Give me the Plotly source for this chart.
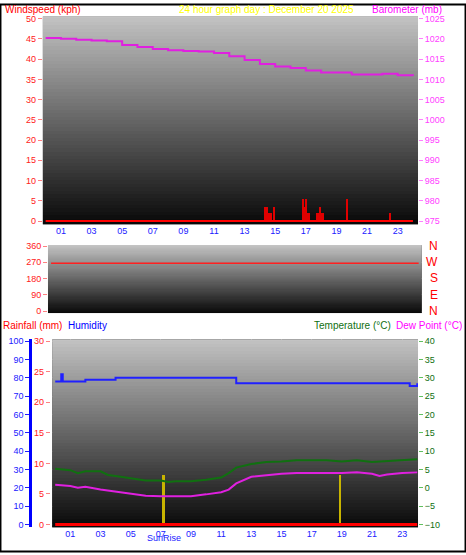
import plotly.graph_objects as go
import numpy as np

hours_baro = [0,1,2,3,4,5,6,7,8,9,10,11,12,13,14,15,16,17,18,19,20,21,22,23,24]
baro = [1020.2,1020,1019.8,1019.6,1019.4,1018.5,1018,1017.5,1017.2,1017,1016.9,1016.5,1015.7,1014.8,1013.8,1013.2,1012.8,1012.2,1011.7,1011.7,1011.2,1011.2,1011.4,1011,1010.9]
gust_hours = [14.3,14.45,14.6,14.75,14.9,16.8,16.9,17.0,17.1,17.2,17.7,17.8,17.9,18.0,18.1,19.7,22.5]
gust = [3.5,3.5,2,2,3.5,5.5,3.5,5.5,2,2,2,2,3.5,2,2,5.5,2]
wind_hours = [0,24]
wind = [0,0]
dir_hours = [0,24]
wdir = [265,265]
hum_hours = [0,0.3,0.4,0.5,1,2,3,4,5,6,7,8,9,10,11,11.5,12,13,14,15,16,17,18,19,20,21,22,23,23.5,24]
hum = [78,78,82,78,78,79,79,80,80,80,80,80,80,80,80,80,77,77,77,77,77,77,77,77,77,77,77,77,75.5,77]
t_hours = [0,1,1.5,2,3,3.5,4,5,6,7,7.5,8,9,10,11,11.5,12,13,14,15,16,17,18,19,20,21,22,23,24]
temp = [5.2,4.8,4,4.5,4.5,3.5,3.2,2.5,2,2,1.6,1.8,1.8,2.2,2.8,4,5.5,6.5,7,7.2,7.5,7.5,7.5,7.2,7.5,7,7.2,7.5,7.8]
d_hours = [0,1,1.5,2,3,4,5,6,7,8,9,10,11,11.5,12,13,14,15,16,17,18,19,20,21,21.5,22,23,24]
dew = [0.8,0.5,0,0.3,-0.5,-1,-1.5,-2.2,-2.3,-2.4,-2.3,-1.8,-1.2,-0.5,1.2,3,3.5,3.8,4,4,3.9,4,4.2,3.8,3.2,3.6,4,4.2]
rain_hours = [0,24]
rain = [0,0]
sun_hours = [7.2,18.9]
tick_vals = [1,3,5,7,9,11,13,15,17,19,21,23]
tick_text = ["01","03","05","07","09","11","13","15","17","19","21","23"]

F = "Liberation Sans, Arial"
fig = go.Figure()

def bg(xa, ya, yr, light=195, dark=8):
    ys = np.linspace(yr[0], yr[1], 60)
    z = [[v, v] for v in np.linspace(dark, light, 60)]
    fig.add_trace(go.Heatmap(x=[-1, 25], y=ys, z=z, xaxis=xa, yaxis=ya, showscale=False,
                             colorscale=[[0, "#000"], [1, "#fff"]], zmin=0, zmax=255, hoverinfo="skip"))

bg("x", "y", [-0.8, 50.5])
fig.add_trace(go.Bar(x=gust_hours, y=gust, width=0.08, marker_color="#e00000", marker_line_width=0, xaxis="x", yaxis="y"))
fig.add_trace(go.Scatter(x=wind_hours, y=wind, mode="lines", line=dict(color="#ff0000", width=2), xaxis="x", yaxis="y"))
fig.add_trace(go.Scatter(x=hours_baro, y=baro, mode="lines", line=dict(color="#e020e0", width=2, shape="hv"), xaxis="x", yaxis="y2"))
bg("x2", "y3", [-10, 365])
fig.add_trace(go.Scatter(x=dir_hours, y=wdir, mode="lines", line=dict(color="#ff2020", width=1.5), xaxis="x2", yaxis="y3"))
bg("x3", "y4", [-1.6, 101])
fig.add_trace(go.Bar(x=sun_hours, y=[27, 27], base=[0, 0], width=0.12, marker_color="#c8b400", marker_line_width=0, xaxis="x3", yaxis="y4"))
fig.add_trace(go.Scatter(x=hum_hours, y=hum, mode="lines", line=dict(color="#2020ff", width=2, shape="hv"), xaxis="x3", yaxis="y4"))
fig.add_trace(go.Scatter(x=rain_hours, y=rain, mode="lines", line=dict(color="#ff0000", width=3), xaxis="x3", yaxis="y5"))
fig.add_trace(go.Scatter(x=t_hours, y=temp, mode="lines", line=dict(color="#107010", width=2), xaxis="x3", yaxis="y6"))
fig.add_trace(go.Scatter(x=d_hours, y=dew, mode="lines", line=dict(color="#e020e0", width=2), xaxis="x3", yaxis="y6"))

grid = dict(showgrid=True, gridcolor="rgba(200,200,200,0.6)", griddash="dot", gridwidth=1)
xcommon = dict(tickvals=tick_vals, ticktext=tick_text, tickfont=dict(family=F, size=9, color="#2020ff"), zeroline=False, ticks="", **grid)
fig.update_layout(
    width=466, height=555, margin=dict(l=0, r=0, t=0, b=0), paper_bgcolor="white", plot_bgcolor="#444",
    showlegend=False, bargap=0,
    xaxis=dict(domain=[0.092, 0.897], range=[-0.18, 24.33], anchor="y", **xcommon),
    yaxis=dict(domain=[0.598, 0.977], range=[-0.8, 50.5], dtick=5, tickfont=dict(family=F, size=9, color="#ff2020"),
               ticks="outside", tickcolor="#ff8080", ticklen=4, zeroline=False, **grid),
    yaxis2=dict(overlaying="y", side="right", range=[974.2, 1025.5], dtick=5, tickfont=dict(family=F, size=9, color="#ff40ff"),
                ticks="outside", tickcolor="#ff80ff", ticklen=4, showgrid=False, zeroline=False, anchor="x"),
    xaxis2=dict(domain=[0.103, 0.905], range=[-0.2, 24.2], anchor="y3", showticklabels=False, zeroline=False, **grid),
    yaxis3=dict(domain=[0.436, 0.56], range=[-10, 365], tickvals=[0, 90, 180, 270, 360], anchor="x2",
                tickfont=dict(family=F, size=9, color="#ff2020"), ticks="outside", tickcolor="#ff8080", ticklen=4, zeroline=False, **grid),
    xaxis3=dict(domain=[0.112, 0.897], range=[-0.2, 24.05], anchor="y4", **xcommon),
    yaxis4=dict(domain=[0.045, 0.388], range=[-1.6, 101], dtick=10, anchor="free", position=0.065, side="left",
                tickfont=dict(family=F, size=9, color="#2020ff"), ticks="outside", tickcolor="#2020ff", ticklen=4,
                showline=True, linecolor="#0000ff", linewidth=3, zeroline=False, **grid),
    yaxis5=dict(overlaying="y4", range=[-0.48, 30.3], dtick=5, anchor="free", position=0.107, side="left",
                tickfont=dict(family=F, size=9, color="#ff2020"), ticks="outside", tickcolor="#ff8080", ticklen=4,
                showgrid=False, zeroline=False),
    yaxis6=dict(overlaying="y4", side="right", anchor="x3", range=[-10.8, 40.5], dtick=5,
                tickfont=dict(family=F, size=9, color="#107010"), ticks="outside", tickcolor="#60c060", ticklen=4,
                showgrid=False, zeroline=False),
    shapes=[dict(type="rect", xref="paper", yref="paper", x0=0.001, x1=0.999, y0=0.001, y1=0.999,
                 line=dict(color="black", width=2))],
)

ann = [
    (3, 6, "Windspeed (kph)", "#ff0000", "left"),
    (266, 6, "24 hour graph day : December 20 2025", "#ffff00", "center"),
    (444, 6, "Barometer (mb)", "#ff00ff", "right"),
    (1, 326, "Rainfall (mm)", "#ff0000", "left"),
    (66, 326, "Humidity", "#0000ff", "left"),
    (464, 326, "Dew Point (°C)", "#ff00ff", "right"),
    (393, 326, "Temperature (°C)", "#107010", "right"),
]
for x, y, t, c, al in ann:
    fig.add_annotation(x=x/466, y=1-y/555, xref="paper", yref="paper",
                       text=t, showarrow=False, xanchor=al, yanchor="middle",
                       font=dict(family=F, size=10, color=c))
for yy, t in [(245, "N"), (261, "W"), (278, "S"), (295, "E"), (311, "N")]:
    fig.add_annotation(x=440/466, y=1-yy/555, xref="paper", yref="paper", text=t, showarrow=False,
                       font=dict(family=F, size=12, color="#ff0000"))
fig.add_annotation(x=7.2, y=1-541/555, xref="x3", yref="paper", text="SunRise", showarrow=False, yanchor="middle",
                   font=dict(family=F, size=9, color="#2020ff"))
fig.write_html("out.html", config={"displayModeBar": False})
with open("out.html", encoding="utf-8") as f:
    html = f.read()
html = html.replace("<head>", "<head><style>html,body{margin:0;padding:0;overflow:hidden}</style>", 1)
with open("out.html", "w", encoding="utf-8") as f:
    f.write(html)
